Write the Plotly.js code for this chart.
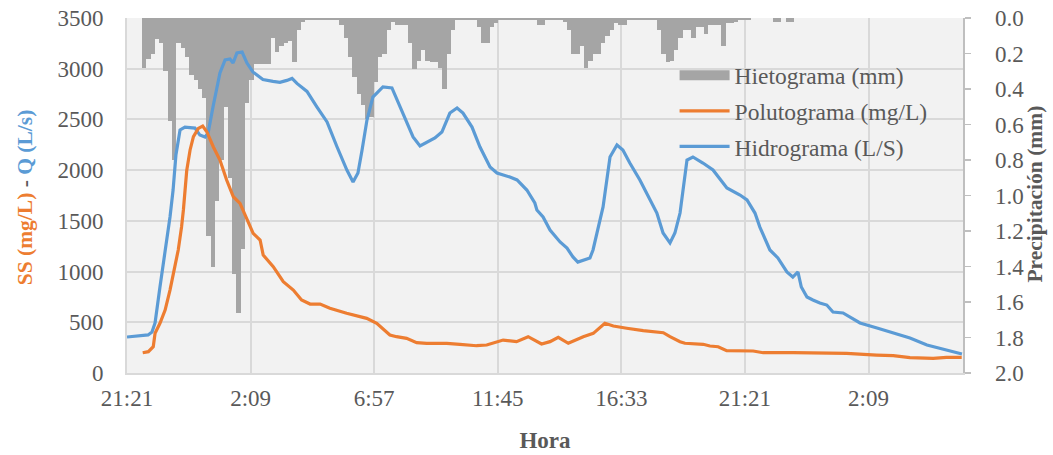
<!DOCTYPE html>
<html>
<head>
<meta charset="utf-8">
<script src="https://cdn.plot.ly/plotly-3.0.1.min.js"></script>
<style>
  html, body { margin: 0; padding: 0; background: #ffffff; }
  #chart { width: 1053px; height: 455px; }
</style>
</head>
<body>
<div id="chart"></div>
<script>
// ---------- DATA ----------
// x axis: hours elapsed since 21:21
const tickHours = [0, 4.8, 9.6, 14.4, 19.2, 24, 28.8];
const tickLabels = ['21:21', '2:09', '6:57', '11:45', '16:33', '21:21', '2:09'];

// Hietograma: 10-minute rainfall (mm), first interval starts 35 min after 21:21
const hietoStartMin = 35;
const hietoStepMin = 10;
const hietoMm = [
  0.28, 0.23, 0.20, 0.12, 0.14, 0.30, 0.58, 0.80, 0.14, 0.17,
  0.22, 0.32, 0.35, 0.40, 0.45, 1.23, 1.40, 1.03, 0.80, 0.50,
  0.90, 1.44, 1.66, 1.30, 0.48, 0.35, 0.26, 0.26, 0.26, 0.26,
  0.11, 0.19, 0.16, 0.14, 0.13, 0.25, 0.07, 0.02, 0.01, 0.01,
  0.01, 0.01, 0.01, 0.01, 0.01, 0.01, 0.04, 0.11, 0.22, 0.33,
  0.43, 0.49, 0.57, 0.56, 0.36, 0.22, 0.20, 0.07, 0.02, 0.04,
  0.04, 0.04, 0.14, 0.29, 0.24, 0.18, 0.24, 0.25, 0.25, 0.28,
  0.40, 0.20, 0.07, 0.01, 0.01, 0.01, 0.01, 0.01, 0.05, 0.14,
  0.14, 0.05, 0.03, 0.01, 0.01, 0.01, 0.01, 0.01, 0.01, 0.01,
  0.01, 0.01, 0.04, 0.04, 0.01, 0.01, 0.01, 0.01, 0.02, 0.07,
  0.20, 0.20, 0.16, 0.28, 0.24, 0.20, 0.20, 0.14, 0.10, 0.07,
  0.03, 0.04, 0.04, 0.01, 0.01, 0.01, 0.01, 0.01, 0.01, 0.01,
  0.07, 0.20, 0.25, 0.24, 0.18, 0.11, 0.07, 0.07, 0.11, 0.05,
  0.05, 0.09, 0.04, 0.04, 0.04, 0.16, 0.03, 0.03, 0.02, 0.01,
  0.01, 0.01, 0.00, 0.00, 0.00, 0.00, 0.00, 0.02, 0.02, 0.00,
  0.02, 0.02
];

// Polutograma: SS (mg/L)
const ssHours = [
  0.61, 0.83, 1.02, 1.09, 1.28, 1.48, 1.67, 1.80, 1.86, 1.99,
  2.12, 2.19, 2.32, 2.45, 2.58, 2.77, 2.94, 3.10, 3.35, 3.61,
  3.87, 4.13, 4.39, 4.65, 4.90, 5.17, 5.29, 5.68, 6.07, 6.46,
  6.78, 7.11, 7.50, 7.88, 8.53, 9.31, 9.70, 10.21, 10.47, 10.86,
  11.25, 11.64, 12.42, 12.93, 13.58, 13.97, 14.61, 15.13, 15.58, 16.10,
  16.43, 16.75, 17.14, 17.72, 18.11, 18.56, 18.89, 19.41, 20.05, 20.83,
  21.09, 21.48, 21.67, 22.38, 22.64, 22.96, 23.29, 24.32, 24.71, 25.88,
  27.17, 27.95, 29.11, 29.76, 30.41, 31.31, 31.83, 32.42
];
const ssMgL = [
  200, 210, 259, 391, 490, 621, 818, 983, 1048, 1213,
  1442, 1607, 1996, 2199, 2330, 2412, 2435, 2379, 2231, 2100,
  1903, 1738, 1673, 1525, 1377, 1311, 1163, 1048, 900, 818,
  720, 680, 680, 638, 589, 539, 490, 375, 358, 342,
  299, 293, 293, 283, 269, 276, 325, 309, 358, 286,
  309, 352, 293, 358, 391, 490, 463, 441, 417, 397,
  358, 309, 293, 283, 266, 259, 220, 217, 200, 200,
  194, 194, 177, 171, 151, 145, 155, 155
];

// Hidrograma: Q (L/s)
const qHours = [
  0.00, 0.50, 0.82, 0.97, 1.09, 1.28, 1.48, 1.67, 1.79, 1.90,
  2.06, 2.25, 2.64, 2.83, 3.03, 3.15, 3.34, 3.61, 3.81, 4.00,
  4.12, 4.27, 4.47, 4.66, 4.89, 5.28, 5.67, 5.94, 6.21, 6.41,
  6.60, 6.99, 7.38, 7.77, 8.16, 8.54, 8.78, 8.97, 9.13, 9.32,
  9.55, 9.83, 9.94, 10.29, 10.41, 10.60, 10.80, 11.11, 11.38, 11.65,
  11.96, 12.23, 12.54, 12.82, 13.05, 13.40, 13.71, 14.10, 14.37, 14.87,
  15.15, 15.53, 15.84, 15.92, 16.16, 16.43, 16.82, 17.09, 17.32, 17.51,
  17.71, 17.98, 18.10, 18.37, 18.49, 18.76, 19.03, 19.26, 19.53, 19.92,
  20.31, 20.58, 20.82, 21.09, 21.28, 21.48, 21.75, 21.98, 22.37, 22.76,
  23.30, 23.81, 24.08, 24.39, 24.58, 24.97, 25.28, 25.63, 25.86, 26.06,
  26.19, 26.41, 26.64, 26.91, 27.18, 27.42, 27.81, 28.47, 29.13, 29.75,
  30.41, 31.07, 31.69, 32.43
];
const qLs = [
  355, 365, 375, 404, 493, 848, 1183, 1538, 1804, 2149,
  2396, 2425, 2415, 2346, 2327, 2366, 2622, 2958, 3086, 3096,
  3056, 3155, 3165, 3056, 2968, 2894, 2875, 2865, 2885, 2904,
  2855, 2776, 2622, 2475, 2228, 2001, 1883, 1972, 2199, 2494,
  2721, 2790, 2820, 2810, 2740, 2622, 2524, 2327, 2238, 2277,
  2317, 2376, 2563, 2613, 2563, 2425, 2228, 2031, 1972, 1932,
  1903, 1804, 1676, 1607, 1538, 1410, 1292, 1232, 1144, 1094,
  1114, 1134, 1213, 1508, 1637, 2130, 2248, 2199, 2070, 1903,
  1706, 1577, 1380, 1282, 1380, 1577, 2100, 2130, 2070, 2001,
  1824, 1755, 1706, 1577, 1439, 1213, 1134, 996, 946, 996,
  848, 749, 720, 690, 670, 601, 592, 493, 444, 394,
  345, 276, 237, 187
];

// ---------- CHART ----------
const FONT = 'Liberation Serif, Times New Roman, serif';
const GREY_TXT = '#595959';
const HIETO_COLOR = '#A5A5A5';
const hietoHours = hietoMm.map((_, i) => (hietoStartMin + hietoStepMin * (i + 0.5)) / 60);

const traces = [
  {
    type: 'bar', name: 'Hietograma (mm)',
    x: hietoHours, y: hietoMm, width: hietoStepMin / 60,
    xaxis: 'x', yaxis: 'y',
    marker: { color: HIETO_COLOR, line: { width: 0 } },
    showlegend: false, hoverinfo: 'skip'
  },
  // legend entry for the hietogram, drawn as a wide grey block
  {
    type: 'scatter', mode: 'lines', name: 'Hietograma (mm)',
    x: [null], y: [null], xaxis: 'x', yaxis: 'y',
    line: { color: HIETO_COLOR, width: 13 },
    legendrank: 1, legendgroup: 'g1'
  },
  {
    type: 'scatter', mode: 'lines', name: 'Hidrograma (L/S)',
    x: qHours, y: qLs, xaxis: 'x', yaxis: 'y2',
    line: { color: '#5B9BD5', width: 3.2 },
    legendrank: 3, legendgroup: 'g3'
  },
  {
    type: 'scatter', mode: 'lines', name: 'Polutograma (mg/L)',
    x: ssHours, y: ssMgL, xaxis: 'x', yaxis: 'y2',
    line: { color: '#ED7D31', width: 3.2 },
    legendrank: 2, legendgroup: 'g2'
  }
];

const tickFont = { family: FONT, size: 23, color: GREY_TXT };
const xTitleFont = { family: FONT, size: 23, color: GREY_TXT, weight: 'bold' };
const yTitleFont = { family: FONT, size: 21.5, color: GREY_TXT, weight: 'bold' };

const layout = {
  width: 1053, height: 455,
  margin: { l: 127, r: 90, t: 18, b: 82, pad: 0 },
  paper_bgcolor: '#ffffff',
  plot_bgcolor: '#F2F2F2',
  bargap: 0,
  showlegend: true,
  legend: {
    x: 0.655, y: 0.9, xanchor: 'left', yanchor: 'top',
    bgcolor: 'rgba(0,0,0,0)', borderwidth: 0,
    font: { family: FONT, size: 23.5, color: GREY_TXT },
    traceorder: 'grouped', tracegroupgap: 2, itemwidth: 50
  },
  xaxis: {
    range: [0, 32.47],
    tickmode: 'array', tickvals: tickHours, ticktext: tickLabels,
    showgrid: true, gridcolor: '#D9D9D9', gridwidth: 2,
    showline: true, linecolor: '#D9D9D9', linewidth: 2,
    zeroline: false, ticks: '', ticklabelstandoff: 3,
    tickfont: tickFont,
    title: { text: 'Hora', font: xTitleFont, standoff: 22 }
  },
  yaxis: {
    side: 'right', range: [2, 0], dtick: 0.2, tick0: 0, tickformat: '.1f',
    showgrid: false, zeroline: false,
    showline: true, linecolor: '#BFBFBF', linewidth: 1.5,
    ticks: 'outside', ticklen: 6, tickcolor: '#BFBFBF', tickwidth: 1.5,
    ticklabelstandoff: 20,
    tickfont: tickFont
  },
  yaxis2: {
    overlaying: 'y', side: 'left', range: [0, 3500], dtick: 500, tick0: 0,
    showgrid: true, gridcolor: '#D9D9D9', gridwidth: 2,
    showline: true, linecolor: '#D9D9D9', linewidth: 2,
    zeroline: false, ticks: '', ticklabelstandoff: 17,
    tickfont: tickFont
  },
  annotations: [
    {
      xref: 'paper', yref: 'paper', x: -0.122, y: 0.495,
      xanchor: 'center', yanchor: 'middle', textangle: -90, showarrow: false,
      text: '<span style="color:#ED7D31">SS (mg/L)</span> - <span style="color:#5B9BD5">Q (L/s)</span>',
      font: yTitleFont
    },
    {
      xref: 'paper', yref: 'paper', x: 1.086, y: 0.505,
      xanchor: 'center', yanchor: 'middle', textangle: -90, showarrow: false,
      text: 'Precipitación (mm)',
      font: yTitleFont
    }
  ]
};

Plotly.newPlot('chart', traces, layout, { displayModeBar: false, staticPlot: true });
</script>
</body>
</html>
